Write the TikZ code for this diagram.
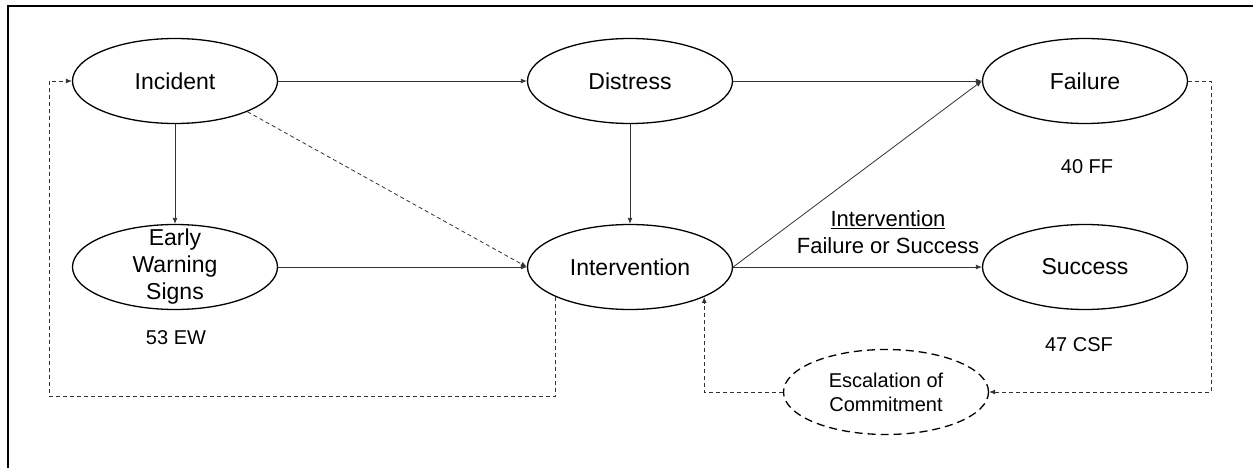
\documentclass[tikz,border=0pt]{standalone}
\usepackage{fontspec}
\setmainfont{Liberation Sans}
\usetikzlibrary{shapes.geometric,arrows.meta}
\begin{document}
\begin{tikzpicture}[x=1pt,y=-1pt,
        stage/.style={ellipse,draw,line width=1.3pt,minimum width=205pt,minimum height=85pt,
          inner sep=0pt,align=center,font=\fontsize{23}{27}\selectfont},
        link/.style={draw=black!80,line width=0.8pt,-{Latex[length=6pt,width=5pt]}},
        loop/.style={link,dash pattern=on 4pt off 3pt},
        count/.style={font=\fontsize{20}{24}\selectfont}]
        \useasboundingbox (0,0) rectangle (1253,468);
        \draw [line width=2pt] (7.5,468) -- (7.5,6) -- (1253,6);
        % stages
        \node [stage] (inc) at (175,81) {Incident};
        \node [stage,inner ysep=-12pt] (ews) at (175,267) {Early\\Warning\\Signs};
        \node [stage] (dis) at (630,81) {Distress};
        \node [stage] (int) at (630,267) {Intervention};
        \node [stage] (fail) at (1085,81) {Failure};
        \node [stage] (succ) at (1085,267) {Success};
        \node [stage,dash pattern=on 8pt off 5pt,font=\fontsize{20}{24}\selectfont] (esc) at (886,392) {Escalation of\\Commitment};
        % counts
        \node [count] (ew) at (176,338) {53 EW};
        \node [count] (ff) at (1087,167) {40 FF};
        \node [count] (csf) at (1079,345) {47 CSF};
        \node [align=center,font=\fontsize{22}{27}\selectfont] (outcome) at (888,232) {\underline{Intervention}\\Failure or Success};
        % links
        \draw [link] (inc) -- (dis);
        \draw [link] (dis) -- (fail.west);
        \draw [link] (inc) -- (ews);
        \draw [link] (dis) -- (int);
        \draw [link] (ews) -- (int);
        \draw [link] (int) -- (succ);
        \draw [link] (int.east) -- (fail.west);
        \draw [loop] (inc.-23) -- (int.west);
        % feedback loops
        \coordinate (lc) at (49,396);
        \coordinate (rc) at (1211,392);
        \draw [loop] (int.-158) |- (lc) |- (inc.west);
        \draw [loop] (fail.east) -| (rc) |- (esc.east);
        \draw [loop] (esc.west) -| (int.-22);
\end{tikzpicture}
\end{document}
